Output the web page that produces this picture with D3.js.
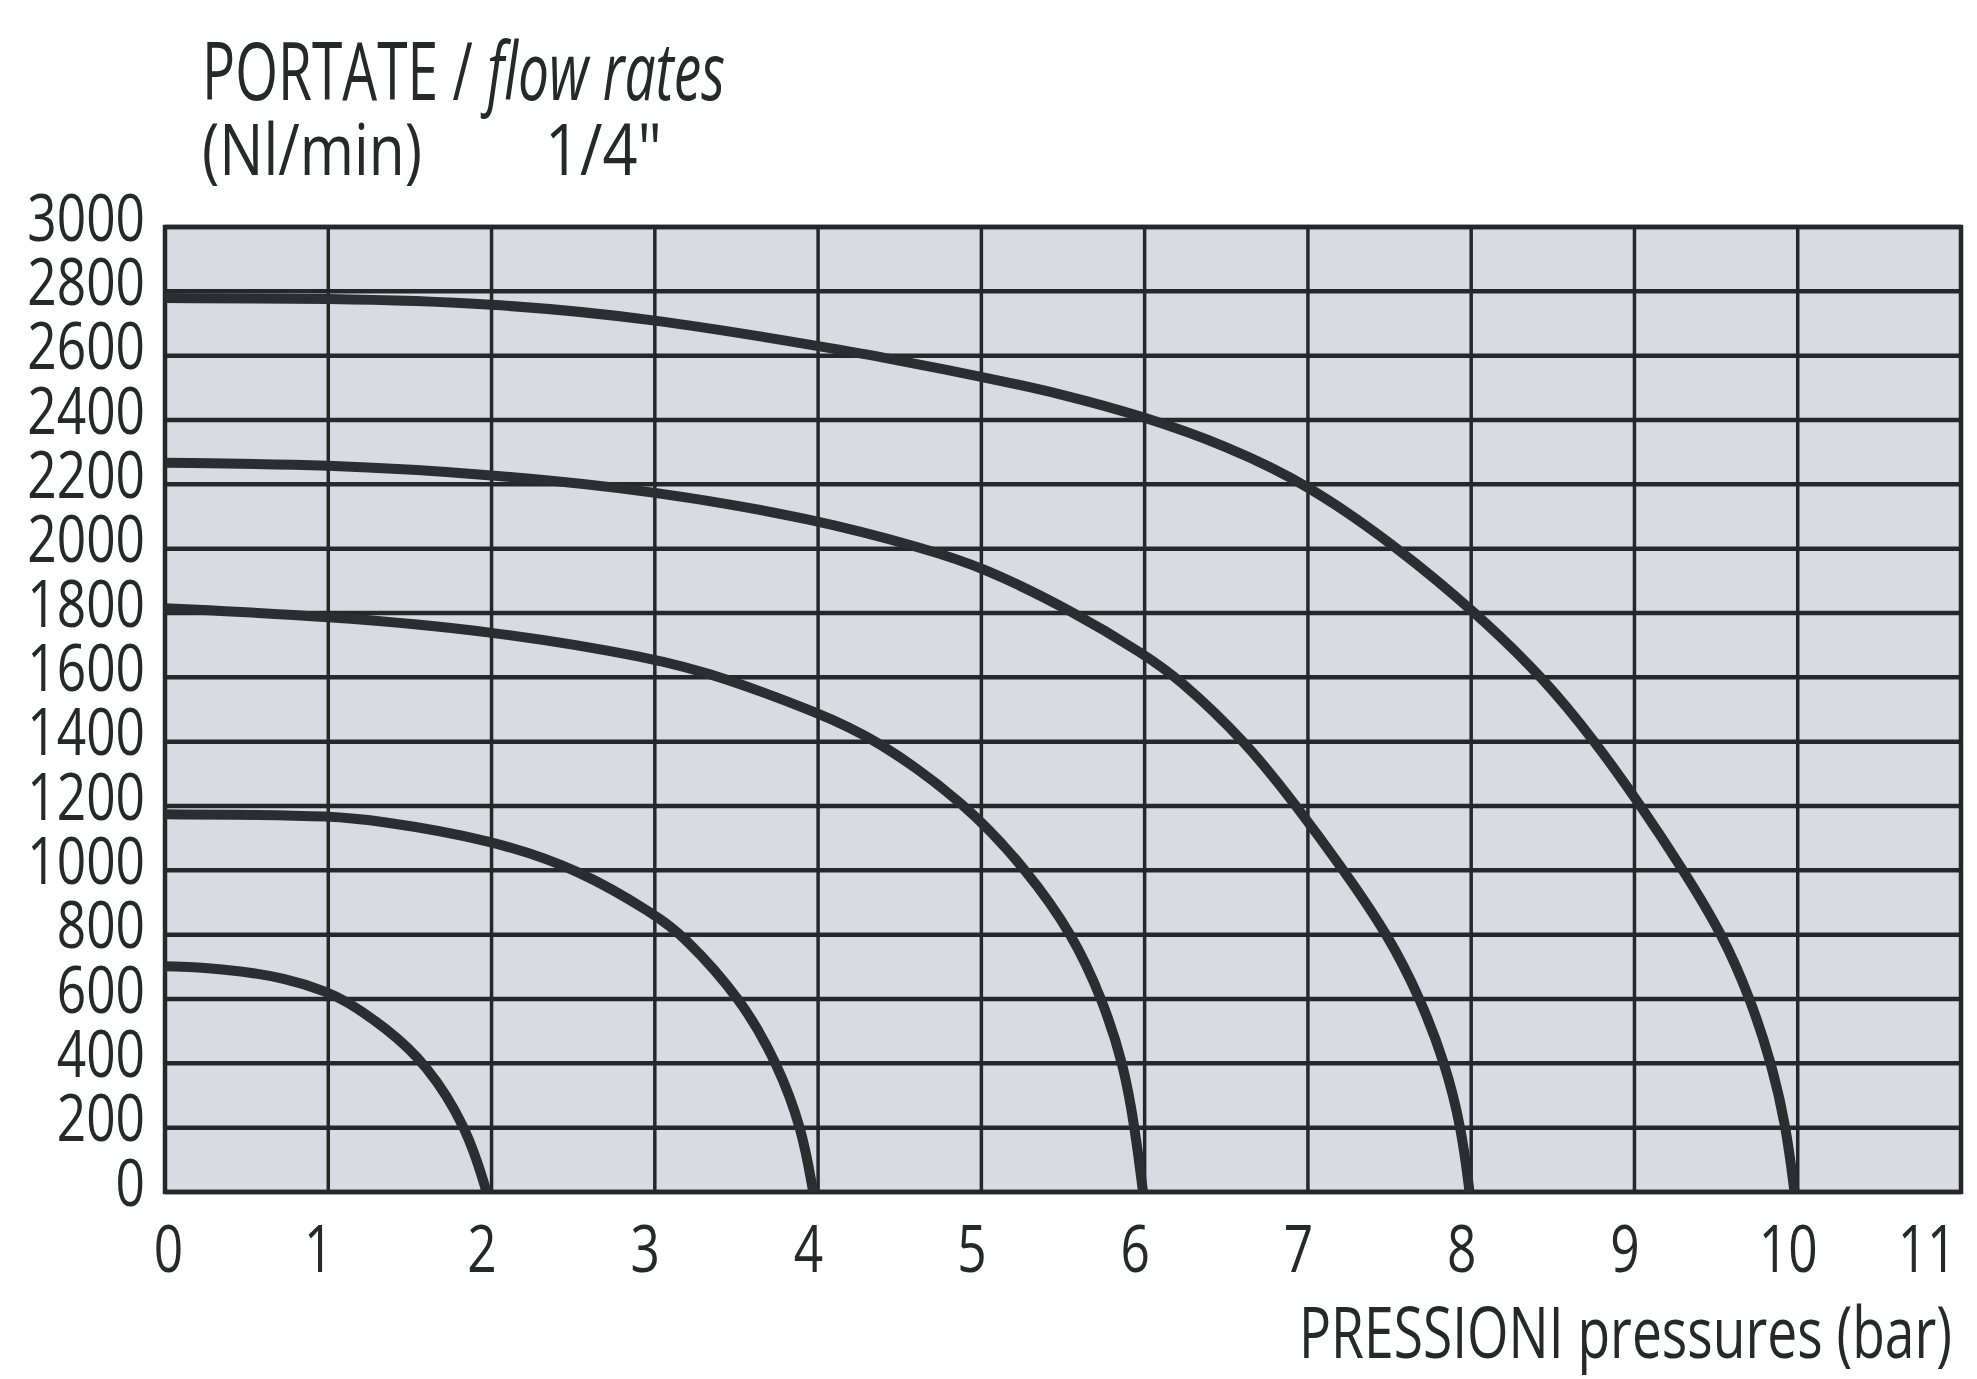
<!DOCTYPE html>
<html lang="en">
<head>
<meta charset="UTF-8">
<title>Portate 1/4"</title>
<script src="https://d3js.org/d3.v7.min.js"></script>
<style>
    body { margin: 0; background: #ffffff; }
    svg { display: block; }
    text { font-family: "Open Sans", "Liberation Sans", sans-serif; fill: #262829; }
</style>
</head>
<body>
<script>
    // tick values
    const pressureTicks = [0, 1, 2, 3, 4, 5, 6, 7, 8, 9, 10, 11];
    const flowTicks = [0, 200, 400, 600, 800, 1000, 1200, 1400, 1600, 1800, 2000, 2200, 2400, 2600, 2800, 3000];

    // curves: pressure (bar) and flow (Nl/min)
    const p2bar = [0, 0.36, 0.75, 1, 1.1, 1.35, 1.6, 1.85, 1.97];
    const q2bar = [702, 695, 665, 620, 597, 512, 400, 200, 0];

    const p4bar = [0, 0.6, 1, 1.28, 2, 2.55, 3, 3.17, 3.53, 3.75, 3.9, 3.97];
    const q4bar = [1174, 1173, 1168, 1157, 1096, 1000, 862, 800, 600, 400, 200, 0];

    const p6bar = [0, 1, 2, 3, 3.42, 4, 4.35, 4.9, 5.28, 5.56, 5.74, 5.87, 5.94, 5.99];
    const q6bar = [1815, 1790, 1745, 1660, 1600, 1490, 1410, 1210, 1000, 800, 600, 400, 200, 0];

    const p8bar = [0, 1, 2, 3, 4, 4.65, 5, 5.58, 6, 6.2, 6.62, 6.93, 7.22, 7.49, 7.69, 7.84, 7.94, 7.99];
    const q8bar = [2267, 2262, 2231, 2180, 2090, 2000, 1945, 1800, 1670, 1600, 1400, 1200, 1000, 800, 600, 400, 200, 0];

    const p10bar = [0, 1, 2, 3, 4, 4.35, 5, 5.5, 6, 6.5, 7, 7.56, 8.03, 8.44, 8.76, 9.04, 9.3, 9.54, 9.71, 9.84, 9.93, 9.98];
    const q10bar = [2779, 2778, 2764, 2715, 2630, 2600, 2535, 2480, 2410, 2320, 2200, 2000, 1800, 1600, 1400, 1200, 1000, 800, 600, 400, 200, 0];

    const series = [[p2bar, q2bar], [p4bar, q4bar], [p6bar, q6bar], [p8bar, q8bar], [p10bar, q10bar]]
        .map(([p, q]) => p.map((d, i) => ({p: d, q: q[i]})));

    const w = 1977, h = 1379;
    const margin = {left: 165, right: 16, top: 227, bottom: 187};
    const ink = '#25282b';

    const x = d3.scaleLinear().domain([0, 11]).range([margin.left, w - margin.right]);
    const y = d3.scaleLinear().domain([0, 3000]).range([h - margin.bottom, margin.top]);

    const svg = d3.select('body').append('svg')
        .attr('width', w)
        .attr('height', h);

    // plot background
    svg.append('rect')
        .attr('x', x(0)).attr('y', y(3000))
        .attr('width', x(11) - x(0)).attr('height', y(0) - y(3000))
        .attr('fill', '#d8dce2');

    // grid
    svg.append('g').selectAll('line')
        .data(flowTicks)
        .enter().append('line')
        .attr('x1', x(0)).attr('x2', x(11))
        .attr('y1', d => y(d)).attr('y2', d => y(d))
        .attr('stroke', ink).attr('stroke-width', 4.5);

    svg.append('g').selectAll('line')
        .data(pressureTicks)
        .enter().append('line')
        .attr('y1', y(0)).attr('y2', y(3000))
        .attr('x1', d => x(d)).attr('x2', d => x(d))
        .attr('stroke', ink).attr('stroke-width', 3.5);

    svg.append('rect')
        .attr('x', x(0)).attr('y', y(3000))
        .attr('width', x(11) - x(0)).attr('height', y(0) - y(3000))
        .attr('fill', 'none').attr('stroke', ink).attr('stroke-width', 4.5);

    // flow curves
    const line = d3.line()
        .x(d => x(d.p))
        .y(d => y(d.q))
        .curve(d3.curveBasis);

    svg.append('g').selectAll('path')
        .data(series)
        .enter().append('path')
        .attr('d', line)
        .attr('fill', 'none')
        .attr('stroke', '#2b2e31')
        .attr('stroke-width', 10);

    // squeeze text horizontally (condensed look)
    function squeeze(sel, sx) {
        sel.each(function() {
            const t = d3.select(this);
            const tx = +t.attr('x') || 0;
            t.attr('x', 0).attr('transform', `translate(${tx},0) scale(${sx},1)`);
        });
    }

    // axes
    const yAxis = svg.append('g')
        .attr('transform', `translate(${x(0)},0)`)
        .call(d3.axisLeft(y).tickValues(flowTicks).tickSize(0).tickPadding(20).tickFormat(d3.format('d')));
    yAxis.select('.domain').remove();
    yAxis.selectAll('text')
        .style('font-size', '66px')
        .attr('fill', '#262829')
        .attr('dy', '0.2em');
    squeeze(yAxis.selectAll('text'), 0.78);

    const xAxis = svg.append('g')
        .attr('transform', `translate(0,${y(0)})`)
        .call(d3.axisBottom(x).tickValues(pressureTicks).tickSize(0).tickPadding(80).tickFormat(d3.format('d')));
    xAxis.select('.domain').remove();
    xAxis.selectAll('text')
        .style('font-size', '66px')
        .attr('fill', '#262829')
        .attr('dy', '0')
        .attr('x', d => d === 0 ? 3 : (d === 11 ? -5 : -10))
        .attr('text-anchor', d => d === 11 ? 'end' : 'middle');
    squeeze(xAxis.selectAll('text'), 0.78);

    // titles, fitted to a width
    function fitText(t, left, base, width) {
        const bw = t.node().getBBox().width;
        t.attr('transform', `translate(${left},${base}) scale(${width / bw},1)`);
    }

    const t1 = svg.append('text').style('font-size', '80px');
    t1.append('tspan').text('PORTATE / ');
    t1.append('tspan').style('font-style', 'italic').text('flow rates');
    fitText(t1, 202, 100, 523);

    const t2 = svg.append('text').style('font-size', '72px').text('(Nl/min)');
    fitText(t2, 202, 175, 220);

    const t3 = svg.append('text').style('font-size', '72px').text('1/4"');
    fitText(t3, 545, 175, 117);

    const t4 = svg.append('text').style('font-size', '72px').text('PRESSIONI pressures (bar)');
    fitText(t4, 1952 - 653, 1358, 653);
</script>
</body>
</html>
